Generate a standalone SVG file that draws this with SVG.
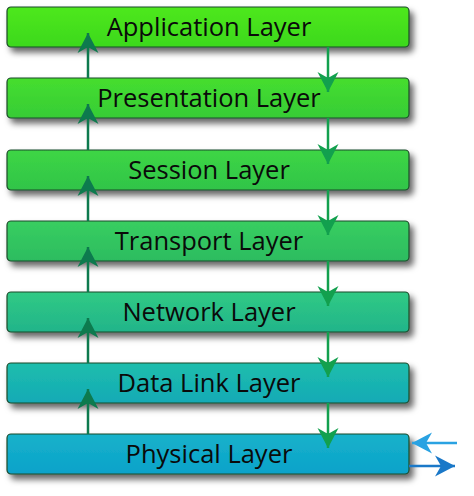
<svg xmlns="http://www.w3.org/2000/svg" width="474" height="496" viewBox="0 0 474 496">
<style>
.box{stroke:#1d4a2a;stroke-width:1.2;filter:url(#sh)}
.lbl{font-family:"Open Sans","Liberation Sans",sans-serif;font-size:25.5px;fill:#0a0a0a;text-anchor:middle}
.up{stroke:#0d7a4e;stroke-width:2.5;fill:none;marker-end:url(#hu)}
.dn{stroke:#12a04e;stroke-width:2.5;fill:none;marker-end:url(#hd)}
</style>
<defs>
<filter id="sh" x="-5%" y="-20%" width="115%" height="160%">
<feDropShadow dx="4" dy="5" stdDeviation="3" flood-color="#000" flood-opacity="0.6"/>
</filter>
<linearGradient id="g1" x1="0" y1="0" x2="0" y2="1"><stop offset="0" stop-color="#4ee81c"/><stop offset="1" stop-color="#3cd81c"/></linearGradient>
<linearGradient id="g2" x1="0" y1="0" x2="0" y2="1"><stop offset="0" stop-color="#46de2e"/><stop offset="1" stop-color="#36cc36"/></linearGradient>
<linearGradient id="g3" x1="0" y1="0" x2="0" y2="1"><stop offset="0" stop-color="#3ed644"/><stop offset="1" stop-color="#30c448"/></linearGradient>
<linearGradient id="g4" x1="0" y1="0" x2="0" y2="1"><stop offset="0" stop-color="#38ce60"/><stop offset="1" stop-color="#2cbc60"/></linearGradient>
<linearGradient id="g5" x1="0" y1="0" x2="0" y2="1"><stop offset="0" stop-color="#30ca84"/><stop offset="1" stop-color="#22b48a"/></linearGradient>
<linearGradient id="g6" x1="0" y1="0" x2="0" y2="1"><stop offset="0" stop-color="#1ebeac"/><stop offset="1" stop-color="#14aab6"/></linearGradient>
<linearGradient id="g7" x1="0" y1="0" x2="0" y2="1"><stop offset="0" stop-color="#16b2ca"/><stop offset="1" stop-color="#0ca2ca"/></linearGradient>
<marker id="hu" markerUnits="userSpaceOnUse" markerWidth="24" markerHeight="24" viewBox="-20 -12 22 24" refX="0" refY="0" orient="auto"><path d="M0,0 L-20,-10.5 L-14,0 L-20,10.5 Z" fill="#0d7a4e"/></marker>
<marker id="hd" markerUnits="userSpaceOnUse" markerWidth="24" markerHeight="24" viewBox="-20 -12 22 24" refX="0" refY="0" orient="auto"><path d="M0,0 L-20,-10.5 L-14,0 L-20,10.5 Z" fill="#12a04e"/></marker>
<marker id="hl" markerUnits="userSpaceOnUse" markerWidth="24" markerHeight="24" viewBox="-20 -12 22 24" refX="0" refY="0" orient="auto"><path d="M0,0 L-20,-10.5 L-14,0 L-20,10.5 Z" fill="#2aa2e2"/></marker>
<marker id="hr" markerUnits="userSpaceOnUse" markerWidth="24" markerHeight="24" viewBox="-20 -12 22 24" refX="0" refY="0" orient="auto"><path d="M0,0 L-20,-10.5 L-14,0 L-20,10.5 Z" fill="#1a78c8"/></marker>
</defs>
<rect width="474" height="496" fill="#fff"/>
<g id="application"><rect class="box" x="7" y="7" width="402" height="40" rx="4" fill="url(#g1)"/><text class="lbl" x="209" y="36">Application Layer</text></g>
<g id="presentation"><rect class="box" x="7" y="78" width="402" height="40" rx="4" fill="url(#g2)"/><text class="lbl" x="209" y="107">Presentation Layer</text></g>
<g id="session"><rect class="box" x="7" y="150" width="402" height="40" rx="4" fill="url(#g3)"/><text class="lbl" x="209" y="179">Session Layer</text></g>
<g id="transport"><rect class="box" x="7" y="221" width="402" height="40" rx="4" fill="url(#g4)"/><text class="lbl" x="209" y="250">Transport Layer</text></g>
<g id="network"><rect class="box" x="7" y="292" width="402" height="40" rx="4" fill="url(#g5)"/><text class="lbl" x="209" y="321">Network Layer</text></g>
<g id="datalink"><rect class="box" x="7" y="363" width="402" height="40" rx="4" fill="url(#g6)"/><text class="lbl" x="209" y="392">Data Link Layer</text></g>
<g id="physical"><rect class="box" x="7" y="434" width="402" height="40" rx="4" fill="url(#g7)"/><text class="lbl" x="209" y="463">Physical Layer</text></g>
<g id="connectors">
<path class="up" d="M88,78 V33"/>
<path class="up" d="M88,150 V104"/>
<path class="up" d="M88,221 V176"/>
<path class="up" d="M88,292 V247"/>
<path class="up" d="M88,363 V318"/>
<path class="up" d="M88,434 V389"/>
<path class="dn" d="M328,47 V92"/>
<path class="dn" d="M328,118 V164"/>
<path class="dn" d="M328,190 V235"/>
<path class="dn" d="M328,261 V306"/>
<path class="dn" d="M328,332 V377"/>
<path class="dn" d="M328,403 V448"/>
<path d="M457,443 H412" stroke="#2aa2e2" stroke-width="2.5" fill="none" marker-end="url(#hl)"/>
<path d="M409,466 H455" stroke="#1a78c8" stroke-width="2.5" fill="none" marker-end="url(#hr)"/>
</g>
</svg>
